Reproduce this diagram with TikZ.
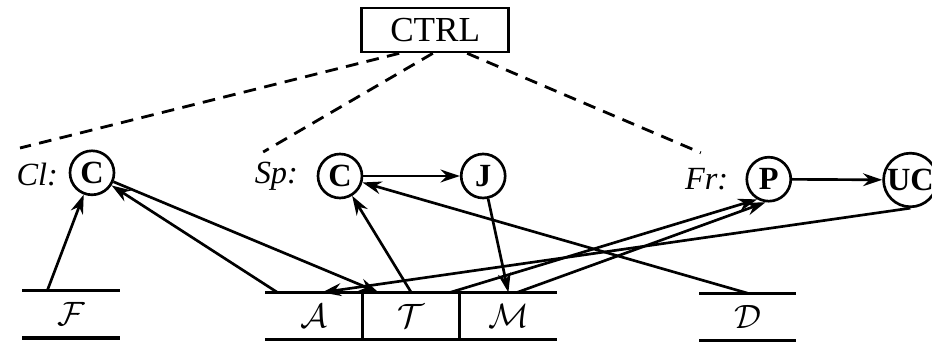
\documentclass[tikz,border=0pt]{standalone}
\usepackage{amsmath,amssymb}
\usepackage{fontspec}
\setmainfont{Liberation Serif}
\usepackage{tikz}
\usetikzlibrary{arrows.meta,positioning,calc}

\begin{document}
\begin{tikzpicture}[font=\fontsize{11}{13}\selectfont, >={Stealth[length=2.4mm,width=1.6mm]},
  line width=0.95pt,
  ctrl/.style={rectangle, draw, minimum width=18.4mm, minimum height=5.5mm, inner sep=2pt,
               font=\fontsize{12.5}{14}\selectfont},
  proc/.style={circle, draw, font=\fontsize{11.5}{13}\selectfont\bfseries, inner sep=0.3pt,
               minimum size=5.5mm},
  store/.style={rectangle, minimum width=12.15mm, minimum height=5.9mm,
                inner sep=0pt, outer sep=0pt, font=\fontsize{11.5}{13}\selectfont},
  lbl/.style={anchor=east, font=\fontsize{11.5}{13}\selectfont\itshape, inner sep=0pt},
  ctl/.style={line width=1pt, dash pattern=on 4.5pt off 3pt},
  bar/.style={line width=1.15pt}]
  \useasboundingbox (0,0) rectangle (11.65,4.3);
  % controller
  \node[ctrl] (ctrl) at (5.44,3.925) {CTRL};
  % processes of the three phases
  \node[proc] (clC) at (1.15,2.14)  {C};
  \node[proc] (spC) at (4.25,2.1)   {C};
  \node[proc] (spJ) at (6.04,2.1)   {J};
  \node[proc] (frP) at (9.61,2.06)  {P};
  \node[proc] (frU) at (11.38,2.05) {UC};
  \node[lbl] (cl) at (0.74,2.12)  {Cl:};
  \node[lbl] (sp) at (3.74,2.1)   {Sp:};
  \node[lbl] (fr) at (9.12,2.06) {Fr:};
  % data stores
  \node[store] (F) at (0.8875,0.37) {$\mathcal{F}$};
  \node[store] (A) at (3.925,0.35)  {$\mathcal{A}$};
  \node[store, right=0pt of A] (T)  {$\mathcal{T}$};
  \node[store, right=0pt of T] (M)  {$\mathcal{M}$};
  \node[store] (D) at (9.345,0.34)  {$\mathcal{D}$};
  \foreach \s in {F,D} {
    \draw[bar] (\s.north west) -- (\s.north east);
    \draw[bar] (\s.south west) -- (\s.south east);
  }
  \draw[bar] (A.north west) -- (M.north east);
  \draw[bar] (A.south west) -- (M.south east);
  \draw (T.north west) -- (T.south west);
  \draw (M.north west) -- (M.south west);
  % control links
  \coordinate (clEnd) at (0.25,2.45);
  \coordinate (spEnd) at (3.29,2.4);
  \coordinate (frEnd) at (8.76,2.39);
  \draw[ctl] ($(ctrl.south)+(-0.45,0)$) -- (clEnd);
  \draw[ctl] ($(ctrl.south)+(-0.03,0)$) -- (spEnd);
  \draw[ctl] ($(ctrl.south)+(0.4,0)$) -- (frEnd);
  % data flow
  \draw[->] ($(F.north west)+(0.31,0)$) -- (clC);
  \draw[->] ($(A.north west)+(0.15,0)$) -- (clC);
  \draw[->] (clC) -- ($(T.north west)+(0.2,0)$);
  \draw[->] (T.north) -- (spC);
  \draw[->] (D.north) -- (spC);
  \draw[->] (spC) -- (spJ);
  \draw[->] (spJ) -- (M.north);
  \draw[->] (frU.south) -- ($(A.north)+(0.1,0)$);
  \draw[->] ($(T.north east)+(-0.12,0)$) -- (frP.240);
  \draw[->] ($(M.north)+(0.11,0)$) -- (frP.262);
  \draw[->] (frP) -- (frU);
\end{tikzpicture}
\end{document}
